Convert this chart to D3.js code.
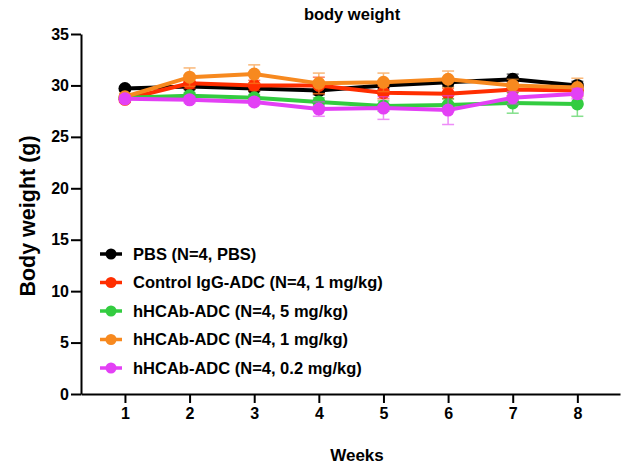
<!DOCTYPE html>
<html>
<head>
<meta charset="utf-8">
<script src="https://cdn.jsdelivr.net/npm/d3@7"></script>
<style>
  body { margin: 0; background: #fff; }
  svg text { font-family: "Liberation Sans", Arial, sans-serif; font-weight: bold; }
</style>
</head>
<body>
<div id="chart"></div>
<script>
(function () {

  // Data
  const weeks = [1, 2, 3, 4, 5, 6, 7, 8]
  const yTicks = [0, 5, 10, 15, 20, 25, 30, 35]
  const groups = ["PBS (N=4, PBS)", "Control IgG-ADC (N=4, 1 mg/kg)", "hHCAb-ADC (N=4, 5 mg/kg)", "hHCAb-ADC (N=4, 1 mg/kg)", "hHCAb-ADC (N=4, 0.2 mg/kg)"]
  const colors = ["#000000", "#ff2e00", "#33cc40", "#f7891f", "#e340f5"]

  const pbsMean = [29.7, 29.9, 29.7, 29.5, 30.0, 30.3, 30.6, 30.0]
  const pbsErr = [0.2, 0.3, 0.3, 0.4, 0.4, 0.4, 0.5, 0.4]
  const iggMean = [28.65, 30.2, 30.0, 30.0, 29.3, 29.2, 29.6, 29.5]
  const iggErr = [0.3, 0.5, 0.5, 0.8, 0.6, 0.5, 0.6, 0.5]
  const dose5Mean = [28.8, 29.0, 28.8, 28.4, 28.0, 28.1, 28.3, 28.2]
  const dose5Err = [0.2, 0.3, 0.3, 0.4, 0.5, 0.6, 1.0, 1.2]
  const dose1Mean = [28.9, 30.8, 31.1, 30.2, 30.3, 30.6, 30.0, 29.8]
  const dose1Err = [0.3, 0.9, 0.9, 1.0, 0.9, 0.8, 0.6, 0.9]
  const dose02Mean = [28.7, 28.6, 28.4, 27.7, 27.8, 27.6, 28.8, 29.2]
  const dose02Err = [0.3, 0.3, 0.3, 0.7, 1.1, 1.4, 0.6, 0.5]

  const means = [pbsMean, iggMean, dose5Mean, dose1Mean, dose02Mean]
  const errs = [pbsErr, iggErr, dose5Err, dose1Err, dose02Err]

  const series = groups.map((g, i) => ({
    name: g,
    color: colors[i],
    points: weeks.map((w, j) => ({ week: w, mean: means[i][j], err: errs[i][j] }))
  }))

  const W = 627, H = 467
  const svg = d3.select("#chart").append("svg")
      .attr("width", W)
      .attr("height", H)

  const x = d3.scaleLinear().domain([0.32, 8.66]).range([81, 620])
  const y = d3.scaleLinear().domain([0, 35]).range([394, 34])

  // Title
  svg.append("text")
    .attr("x", 352).attr("y", 20)
    .attr("text-anchor", "middle")
    .style("font-size", "16.5px")
    .text("body weight")

  // Axes
  const xAxis = svg.append("g")
    .attr("transform", "translate(0," + y(0) + ")")
    .call(d3.axisBottom(x).tickValues(weeks).tickSize(9).tickPadding(5).tickSizeOuter(0))
  const yAxis = svg.append("g")
    .attr("transform", "translate(" + x.range()[0] + ",0)")
    .call(d3.axisLeft(y).tickValues(yTicks).tickSize(10).tickPadding(2).tickSizeOuter(0))

  ;[xAxis, yAxis].forEach(a => {
    a.select(".domain").attr("stroke", "#000").attr("stroke-width", 2)
    a.selectAll(".tick line").attr("stroke", "#000").attr("stroke-width", 2)
    a.selectAll(".tick text").attr("fill", "#000").style("font-size", "16px")
  })

  // Axis titles
  svg.append("text")
    .attr("x", 357).attr("y", 461)
    .attr("text-anchor", "middle")
    .style("font-size", "17px")
    .text("Weeks")

  svg.append("text")
    .attr("transform", "translate(35,216) rotate(-90)")
    .attr("text-anchor", "middle")
    .style("font-size", "21.5px")
    .text("Body weight (g)")

  // Lines, error bars, points
  const line = d3.line().x(d => x(d.week)).y(d => y(d.mean))

  const groupsG = svg.selectAll(".series")
    .data(series)
    .join("g")
    .attr("class", "series")

  groupsG.append("path")
    .attr("d", d => line(d.points))
    .attr("fill", "none")
    .attr("stroke", d => d.color)
    .attr("stroke-width", 4)

  groupsG.each(function (s) {
    const g = d3.select(this)
    const eb = g.selectAll(".err")
      .data(s.points)
      .join("g")
      .attr("class", "err")
      .attr("stroke", s.color)
      .attr("stroke-width", 1.5)
      .attr("opacity", 0.6)
    eb.append("line")
      .attr("x1", d => x(d.week)).attr("x2", d => x(d.week))
      .attr("y1", d => y(d.mean - d.err)).attr("y2", d => y(d.mean + d.err))
    eb.append("line")
      .attr("x1", d => x(d.week) - 6).attr("x2", d => x(d.week) + 6)
      .attr("y1", d => y(d.mean + d.err)).attr("y2", d => y(d.mean + d.err))
    eb.append("line")
      .attr("x1", d => x(d.week) - 6).attr("x2", d => x(d.week) + 6)
      .attr("y1", d => y(d.mean - d.err)).attr("y2", d => y(d.mean - d.err))

    g.selectAll("circle")
      .data(s.points)
      .join("circle")
      .attr("cx", d => x(d.week))
      .attr("cy", d => y(d.mean))
      .attr("r", 6.5)
      .attr("fill", s.color)
  })

  // Legend
  const legend = svg.append("g")
  const rows = legend.selectAll("g")
    .data(series)
    .join("g")
    .attr("transform", (d, i) => "translate(100," + (254 + i * 28.5) + ")")
  rows.append("line")
    .attr("x1", 0).attr("x2", 22)
    .attr("stroke", d => d.color)
    .attr("stroke-width", 3.5)
  rows.append("circle")
    .attr("cx", 11).attr("r", 5.5)
    .attr("fill", d => d.color)
  rows.append("text")
    .attr("x", 33).attr("dy", "0.36em")
    .style("font-size", "16.5px")
    .text(d => d.name)

})();
</script>
</body>
</html>
